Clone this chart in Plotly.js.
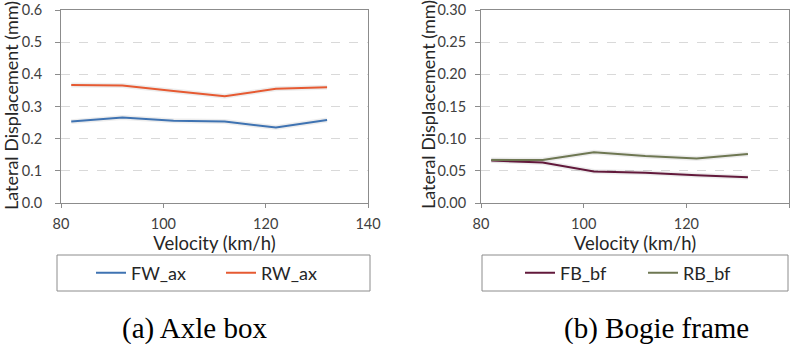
<!DOCTYPE html>
<html><head><meta charset="utf-8">
<script src="https://cdn.plot.ly/plotly-3.0.1.min.js"></script>
<style>html,body{margin:0;padding:0;background:#fff}#c{width:800px;height:344px}</style>
</head><body><div id="c"></div>
<script>
const velocity = [82, 92, 102, 112, 122, 132];
const FW_ax = [0.253, 0.266, 0.256, 0.253, 0.235, 0.258];
const RW_ax = [0.367, 0.365, 0.348, 0.332, 0.355, 0.360];
const FB_bf = [0.066, 0.063, 0.049, 0.047, 0.043, 0.040];
const RB_bf = [0.067, 0.067, 0.079, 0.073, 0.069, 0.076];
const yTicksA = [0, 0.1, 0.2, 0.3, 0.4, 0.5, 0.6];
const yTicksB = [0, 0.05, 0.10, 0.15, 0.20, 0.25, 0.30];
const xTicks = [80, 100, 120, 140];

const font = "Lato, 'Open Sans', sans-serif";
const tickCol = '#404040';
const titleCol = '#262626';

function halo(y, xa, ya) {
  return {x: velocity, y: y, type: 'scatter', mode: 'lines', hoverinfo: 'skip', showlegend: false,
    line: {color: 'rgba(0,0,0,0.07)', width: 5}, xaxis: xa, yaxis: ya};
}
function tr(y, name, color, xa, ya, leg) {
  return {x: velocity, y: y, name: name, type: 'scatter', mode: 'lines',
    line: {color: color, width: 2}, xaxis: xa, yaxis: ya, legend: leg};
}
const traces = [
  halo(FW_ax, 'x', 'y'), halo(RW_ax, 'x', 'y'), halo(FB_bf, 'x2', 'y2'), halo(RB_bf, 'x2', 'y2'),
  tr(FW_ax, 'FW_ax', '#3f73b2', 'x', 'y', 'legend'),
  tr(RW_ax, 'RW_ax', '#e65a32', 'x', 'y', 'legend'),
  tr(FB_bf, 'FB_bf', '#62193b', 'x2', 'y2', 'legend2'),
  tr(RB_bf, 'RB_bf', '#6e7752', 'x2', 'y2', 'legend2')
];

const yDom = [1 - 203/344, 1 - 10/344];
function xax(dom, anchor) {
  return {domain: dom, anchor: anchor, range: [80, 140], tickvals: xTicks, ticktext: xTicks.map(String),
    showgrid: false, zeroline: false, showline: true, linecolor: '#8c8c8c', linewidth: 1,
    mirror: true, ticks: 'outside', ticklen: 4, tickcolor: '#8c8c8c', ticklabelstandoff: 4,
    tickfont: {family: font, size: 14.5, color: tickCol},
    title: {text: 'Velocity (km/h)', font: {family: font, size: 18.5, color: titleCol}, standoff: 1},
    automargin: false, fixedrange: true};
}
function yax(dom, ticks, fmt, anchor, standoff) {
  return {domain: dom, range: [0, ticks[ticks.length-1]], tickvals: ticks,
    ticktext: ticks.map(v => v.toFixed(fmt)), anchor: anchor,
    showgrid: true, gridcolor: '#d9d9d9', griddash: 'dash', gridwidth: 1,
    zeroline: false, showline: true, linecolor: '#8c8c8c', linewidth: 1, mirror: true,
    ticks: 'outside', ticklen: 5, tickcolor: '#8c8c8c', ticklabelstandoff: standoff,
    tickfont: {family: font, size: 14.5, color: tickCol},
    automargin: false, fixedrange: true};
}

const layout = {
  width: 800, height: 344, margin: {l: 0, r: 0, t: 0, b: 0},
  paper_bgcolor: '#fff', plot_bgcolor: '#fff', showlegend: true,
  xaxis: xax([61/800, 368/800], 'y'), yaxis: yax(yDom, yTicksA, 1, 'x', 10),
  xaxis2: xax([481/800, 789/800], 'y2'),
  yaxis2: yax(yDom, yTicksB, 2, 'x2', 6),
  legend: {orientation: 'h', x: 91/800, xanchor: 'left', y: 1 - 273/344, yanchor: 'middle',
    font: {family: font, size: 18, color: titleCol}, bgcolor: 'rgba(0,0,0,0)', entrywidth: 85},
  legend2: {orientation: 'h', x: 520/800, xanchor: 'left', y: 1 - 273/344, yanchor: 'middle',
    font: {family: font, size: 18, color: titleCol}, bgcolor: 'rgba(0,0,0,0)', entrywidth: 78},
  shapes: [
    {type: 'rect', xref: 'paper', yref: 'paper', x0: 57/800, x1: 370/800, y0: 1-291/344, y1: 1-255/344,
      line: {color: '#8c8c8c', width: 1}},
    {type: 'rect', xref: 'paper', yref: 'paper', x0: 482/800, x1: 788/800, y0: 1-291/344, y1: 1-255/344,
      line: {color: '#8c8c8c', width: 1}}
  ],
  annotations: [
    {text: 'Lateral Displacement (mm)', xref: 'paper', yref: 'paper', x: 11/800, y: 1-106/344,
      xanchor: 'center', yanchor: 'middle',
      textangle: -90, showarrow: false, font: {family: font, size: 18, color: titleCol}},
    {text: 'Lateral Displacement (mm)', xref: 'paper', yref: 'paper', x: 428/800, y: 1-105/344,
      xanchor: 'center', yanchor: 'middle',
      textangle: -90, showarrow: false, font: {family: font, size: 18, color: titleCol}},
    {text: '(a) Axle box', xref: 'paper', yref: 'paper', x: 194/800, y: 1-328/344, showarrow: false,
      xanchor: 'center', yanchor: 'middle',
      font: {family: "'Liberation Serif', 'Times New Roman', serif", size: 29, color: '#000'}},
    {text: '(b) Bogie frame', xref: 'paper', yref: 'paper', x: 656/800, y: 1-328/344, showarrow: false,
      xanchor: 'center', yanchor: 'middle',
      font: {family: "'Liberation Serif', 'Times New Roman', serif", size: 29, color: '#000'}}
  ]
};
Plotly.newPlot('c', traces, layout, {staticPlot: true, displayModeBar: false});
</script></body></html>
